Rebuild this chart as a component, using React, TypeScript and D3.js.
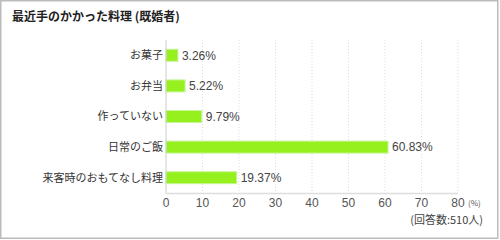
import React from "react";
import * as d3 from "d3";

const categories = ["お菓子", "お弁当", "作っていない", "日常のご飯", "来客時のおもてなし料理"];
const values = [3.26, 5.22, 9.79, 60.83, 19.37];
const ticks = [0, 10, 20, 30, 40, 50, 60, 70, 80];
const title = "最近手のかかった料理 (既婚者)";
const note = "(回答数:510人)";

const W = 500, H = 240;
const left = 166, right = 458, top = 40, bottom = 193;
const FONT = "'Noto Sans CJK JP', 'Noto Sans', sans-serif";
const NUMFONT = "'Liberation Sans', 'Noto Sans CJK JP', sans-serif";

export default function App() {
  const x = d3.scaleLinear().domain([0, 80]).range([left, right]);
  const yc = d3.scaleBand<string>().domain(categories).range([top, bottom]);
  return (
    <svg width={W} height={H} style={{ position: "absolute", left: 0, top: 0, display: "block" }} fontFamily={FONT}>
      <rect x={0.75} y={0.75} width={W - 3} height={H - 2.5} fill="#fff" stroke="#bbb" strokeWidth={1.5} />
      <text x={12} y={21} fontSize={12} fontWeight="bold" fill="#222">{title}</text>
      {ticks.slice(1).map((t) => (
        <line key={t} x1={x(t)} x2={x(t)} y1={top} y2={bottom} stroke="#ddd" strokeWidth={1} strokeDasharray="1,2" />
      ))}
      {categories.map((c, i) => {
        const cy = (yc(c) ?? 0) + yc.bandwidth() / 2;
        const bh = 12;
        return (
          <g key={c}>
            <rect x={x(0)} y={cy - bh / 2} width={x(values[i]) - x(0)} height={bh} fill="#96f01e" stroke="#c6f59a" strokeWidth={1} />
            <text x={left - 3} y={cy} dy="0.35em" textAnchor="end" fontSize={11} fill="#333">{c}</text>
            <text x={x(values[i]) + 4} y={cy} dy="0.36em" fontSize={12} fill="#444" fontFamily={NUMFONT}>{values[i].toFixed(2)}%</text>
          </g>
        );
      })}
      <line x1={left} x2={left} y1={top} y2={bottom} stroke="#ccc" strokeWidth={1} />
      <line x1={left} x2={right} y1={bottom + 0.5} y2={bottom + 0.5} stroke="#ddd" strokeWidth={1.5} />
      {ticks.map((t) => (
        <text key={t} x={x(t)} y={207} textAnchor="middle" fontSize={12} fill="#555" fontFamily={NUMFONT}>{t}</text>
      ))}
      <text x={x(80) + 10} y={206} fontSize={8} fill="#555">(%)</text>
      <text x={483} y={224} textAnchor="end" fontSize={11} fill="#444">{note}</text>
    </svg>
  );
}
